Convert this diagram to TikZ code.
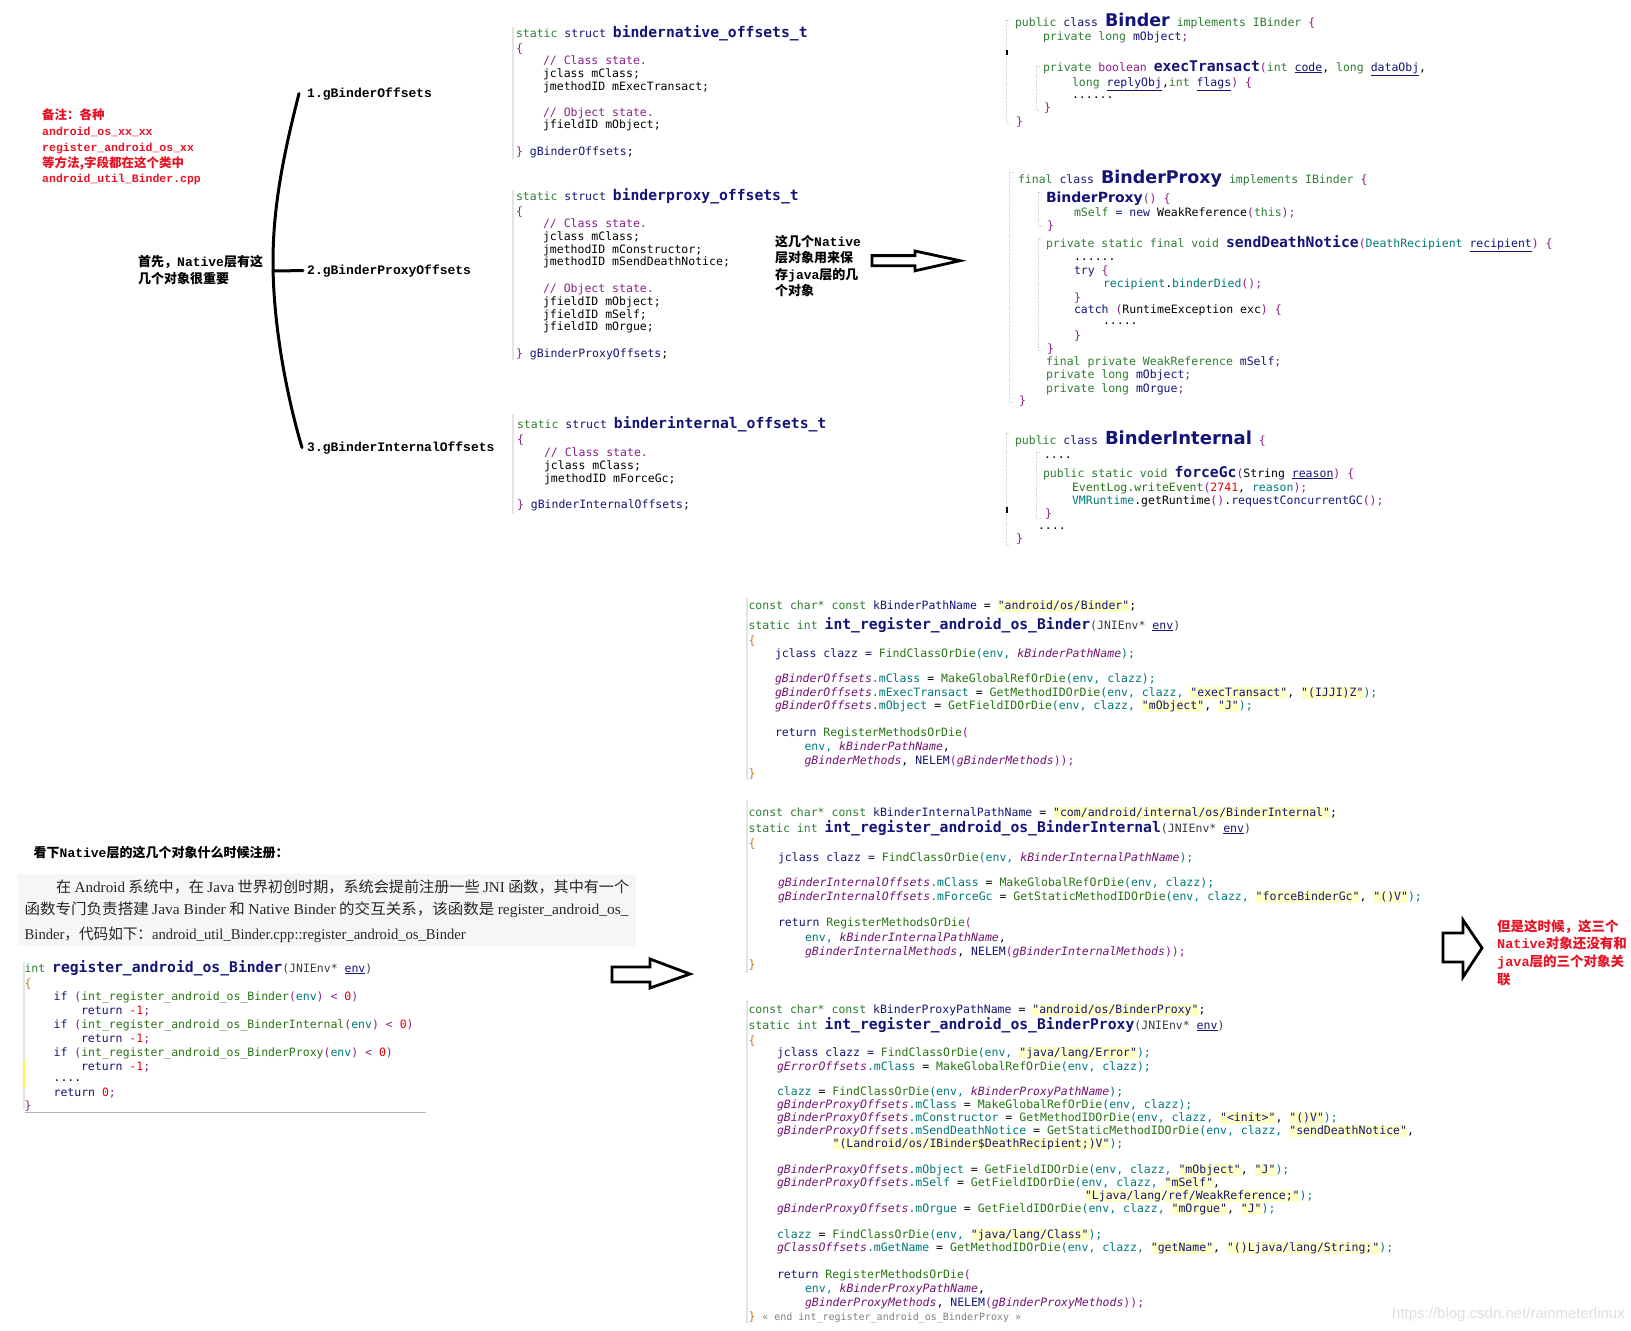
\documentclass[tikz,border=0pt]{standalone}
\usepackage{fontspec}
\usepackage{graphicx}
\newfontfamily\cf{DejaVu Sans Mono}
\newfontfamily\jf{DejaVu Sans}
\newfontfamily\lmo{Liberation Mono}
\newfontfamily\cjk{Noto Sans CJK SC}
\newfontfamily\lser{Liberation Serif}
\newfontfamily\lsans{Liberation Sans}
\definecolor{kw}{RGB}{46,125,50}
\definecolor{nv}{RGB}{20,20,120}
\definecolor{pu}{RGB}{140,30,140}
\definecolor{tl}{RGB}{0,120,120}
\definecolor{fg}{RGB}{40,115,20}
\definecolor{ci}{RGB}{115,20,115}
\definecolor{rn}{RGB}{230,0,0}
\definecolor{hl}{RGB}{255,255,200}
\definecolor{redT}{RGB}{232,18,36}
\definecolor{dk}{RGB}{60,60,60}
\definecolor{orng}{RGB}{200,120,20}
\newcommand\co[2]{\textcolor{#1}{#2}}
\newcommand\bt[1]{{\bfseries\fontsize{14.7}{15}\selectfont #1}}
\newcommand\jt[2]{{\jf\bfseries\fontsize{#1}{#1}\selectfont #2}}
\newcommand\und[1]{\underline{#1}}
\newcommand\hlb[1]{{\setlength{\fboxsep}{0pt}\colorbox{hl}{\rule[-3pt]{0pt}{12pt}\co{nv}{#1}}}}
\newcommand\ital[1]{\co{ci}{\itshape #1}}
\newcommand\zh[1]{{\cjk\bfseries #1}}
\newcounter{nn}
\newcommand\Ln[4][code]{\stepcounter{nn}\node[#1] (n\thenn) at (#2,#3) {#4};}
\tikzset{
  code/.style={anchor=base west, inner sep=0pt, outer sep=0pt, font=\cf\fontsize{11.5}{13}\selectfont},
  lab/.style={anchor=base west, inner sep=0pt, font=\lmo\bfseries\fontsize{13}{15}\selectfont},
  redlab/.style={lab, text=redT, font=\lmo\bfseries\fontsize{12.5}{15}\selectfont},
  redsm/.style={lab, text=redT, font=\lmo\bfseries\fontsize{11.5}{14}\selectfont},
  redbig/.style={lab, text=redT, font=\lmo\bfseries\fontsize{13.5}{15}\selectfont},
  scan/.style={anchor=base west, inner sep=0pt, font=\cjk\fontsize{15}{17}\selectfont, text=black!85},
  wm/.style={anchor=base east, inner sep=0pt, font=\lsans\fontsize{15}{15}\selectfont, text=gray!25},
  bar/.style={draw=gray!22, line width=1.5pt},
  jbar/.style={draw=gray!35, line width=0.8pt, densely dotted},
  hollow/.style={draw=black, line width=2.8pt, fill=white, line join=miter},
  brk/.style={draw=black, line width=3pt, line cap=round},
}
\begin{document}
\begin{tikzpicture}[x=1pt,y=-1pt]
\fill[white] (0,0) rectangle (1631,1331);
\useasboundingbox (0,0) rectangle (1631,1331);

% ---------- left labels and bracket ----------
\Ln[redlab]{42}{119}{\zh{备注：各种}}
\Ln[redsm]{42}{135}{android\_os\_xx\_xx}
\Ln[redsm]{42}{151}{register\_android\_os\_xx}
\Ln[redlab]{42}{167}{\zh{等方法,字段都在这个类中}}
\Ln[redsm]{42}{182}{android\_util\_Binder.cpp}
\node[lab] (g1) at (307,97) {1.gBinderOffsets};
\node[lab] (g2) at (307,274) {2.gBinderProxyOffsets};
\node[lab] (g3) at (307,451) {3.gBinderInternalOffsets};
\Ln[lab]{138}{266}{\zh{首先，}Native\zh{层有这}}
\Ln[lab]{138}{283}{\zh{几个对象很重要}}
\coordinate (bm) at (273,271);
\draw[brk] ([xshift=-8pt]g1.west) .. controls (282,160) and (273,210) .. (273,262) .. controls (273,320) and (285,390) .. ([xshift=-5pt]g3.west);
\draw[brk] (bm) -- ([xshift=-4pt]g2.west);

% ---------- struct blocks ----------
\draw[bar] (513,27.4) -- (513,159);
\draw[bar] (513,189.7) -- (513,360);
\draw[bar] (513,414) -- (513,514);
\Ln{516}{37}{\co{kw}{static} \co{nv}{struct} \bt{\co{nv}{bindernative\_offsets\_t}}}
\Ln{516}{52}{\co{pu}{\{}}
\Ln{543}{64}{\co{pu}{// Class state.}}
\Ln{543}{77}{jclass mClass;}
\Ln{543}{90}{jmethodID mExecTransact;}
\Ln{543}{116.6}{\co{pu}{// Object state.}}
\Ln{543}{128.7}{jfieldID mObject;}
\Ln{516}{155}{\co{pu}{\}} \co{nv}{gBinderOffsets};}

\Ln{516}{200}{\co{kw}{static} \co{nv}{struct} \bt{\co{nv}{binderproxy\_offsets\_t}}}
\Ln{516}{215}{\co{pu}{\{}}
\Ln{543}{227}{\co{pu}{// Class state.}}
\Ln{543}{240.3}{jclass mClass;}
\Ln{543}{253.5}{jmethodID mConstructor;}
\Ln{543}{265.7}{jmethodID mSendDeathNotice;}
\Ln{543}{292}{\co{pu}{// Object state.}}
\Ln{543}{305.2}{jfieldID mObject;}
\Ln{543}{318.4}{jfieldID mSelf;}
\Ln{543}{330.6}{jfieldID mOrgue;}
\Ln{516}{357}{\co{pu}{\}} \co{nv}{gBinderProxyOffsets};}

\Ln{517}{428}{\co{kw}{static} \co{nv}{struct} \bt{\co{nv}{binderinternal\_offsets\_t}}}
\Ln{517}{443}{\co{pu}{\{}}
\Ln{544}{456.3}{\co{pu}{// Class state.}}
\Ln{544}{469.5}{jclass mClass;}
\Ln{544}{482.7}{jmethodID mForceGc;}
\Ln{517}{508}{\co{pu}{\}} \co{nv}{gBinderInternalOffsets};}

% middle label and arrow
\Ln[lab]{775}{246}{\zh{这几个}Native}
\Ln[lab]{775}{262}{\zh{层对象用来保}}
\Ln[lab]{775}{279}{\zh{存}java\zh{层的几}}
\Ln[lab]{775}{295}{\zh{个对象}}
\draw[hollow] (872,255.6) -- (915,255.6) -- (915,251) -- (960,260.7) -- (915,270.8) -- (915,265.7) -- (872,265.7) -- cycle;

% ---------- Java: Binder ----------
\draw[jbar] (1010,20) -- (1006,20) -- (1006,123) -- (1010,123);
\draw[jbar] (1040,66) -- (1036,66) -- (1036,110) -- (1040,110);
\fill (1006,50) rectangle (1007.5,55);
\Ln{1015}{26}{\co{kw}{public} \co{nv}{class} \jt{17.5}{\co{nv}{Binder}} \co{kw}{implements IBinder} \co{pu}{\{}}
\Ln{1043}{40}{\co{kw}{private long} \co{nv}{mObject}\co{pu}{;}}
\Ln{1043}{71}{\co{kw}{private} \co{pu}{boolean} \bt{\co{nv}{execTransact}}\co{pu}{(}\co{kw}{int} \co{nv}{\und{code}}, \co{kw}{long} \co{nv}{\und{dataObj}},}
\Ln{1072}{86}{\co{kw}{long} \co{nv}{\und{replyObj}},\co{kw}{int} \co{nv}{\und{flags}}\co{pu}{) \{}}
\Ln{1072}{98}{......}
\Ln{1044}{111}{\co{pu}{\}}}
\Ln{1016}{125}{\co{pu}{\}}}

% ---------- Java: BinderProxy ----------
\draw[jbar] (1013,172) -- (1009,172) -- (1009,402) -- (1013,402);
\draw[jbar] (1042,192) -- (1038,192) -- (1038,226) -- (1042,226);
\draw[jbar] (1042,238) -- (1038,238) -- (1038,350) -- (1042,350);
\Ln{1018}{183}{\co{kw}{final} \co{nv}{class} \jt{17.5}{\co{nv}{BinderProxy}} \co{kw}{implements IBinder} \co{pu}{\{}}
\Ln{1046}{202}{\jt{14}{\co{nv}{BinderProxy}}\co{pu}{() \{}}
\Ln{1074}{216}{\co{kw}{mSelf} \co{nv}{= new} WeakReference\co{pu}{(}\co{kw}{this}\co{pu}{);}}
\Ln{1047}{229}{\co{pu}{\}}}
\Ln{1046}{247}{\co{kw}{private static final void} \bt{\co{nv}{sendDeathNotice}}\co{pu}{(}\co{tl}{DeathRecipient} \co{nv}{\und{recipient}}\co{pu}{) \{}}
\Ln{1074}{260}{......}
\Ln{1074}{274}{\co{nv}{try} \co{pu}{\{}}
\Ln{1103}{287}{\co{tl}{recipient}.\co{tl}{binderDied}\co{pu}{();}}
\Ln{1074}{301}{\co{pu}{\}}}
\Ln{1074}{313}{\co{nv}{catch} \co{pu}{(}RuntimeException exc\co{pu}{) \{}}
\Ln{1103}{324}{.....}
\Ln{1074}{339}{\co{pu}{\}}}
\Ln{1047}{352}{\co{pu}{\}}}
\Ln{1046}{365}{\co{kw}{final private WeakReference} \co{nv}{mSelf}\co{pu}{;}}
\Ln{1046}{378}{\co{kw}{private long} \co{nv}{mObject}\co{pu}{;}}
\Ln{1046}{392}{\co{kw}{private long} \co{nv}{mOrgue}\co{pu}{;}}
\Ln{1019}{404}{\co{pu}{\}}}

% ---------- Java: BinderInternal ----------
\draw[jbar] (1010,433) -- (1006,433) -- (1006,545) -- (1010,545);
\draw[jbar] (1040,452) -- (1036,452) -- (1036,518) -- (1040,518);
\fill (1006,507) rectangle (1007.5,513);
\Ln{1015}{444}{\co{kw}{public} \co{nv}{class} \jt{18}{\co{nv}{BinderInternal}} \co{pu}{\{}}
\Ln{1044}{458}{....}
\Ln{1043}{477}{\co{kw}{public static void} \bt{\co{nv}{forceGc}}\co{pu}{(}String \co{nv}{\und{reason}}\co{pu}{) \{}}
\Ln{1072}{491}{\co{fg}{EventLog.writeEvent}\co{pu}{(}\co{rn}{2741}, \co{tl}{reason}\co{pu}{);}}
\Ln{1072}{504}{\co{tl}{VMRuntime}.getRuntime\co{pu}{()}.\co{nv}{requestConcurrentGC}\co{pu}{();}}
\Ln{1045}{517}{\co{pu}{\}}}
\Ln{1038}{529}{....}
\Ln{1016}{542}{\co{pu}{\}}}

% ---------- C: int_register_android_os_Binder ----------
\draw[bar] (747,598) -- (747,780);
\Ln{748.5}{609}{\co{kw}{const char* const} \co{nv}{kBinderPathName} = \hlb{"android/os/Binder"};}
\Ln{748.5}{629}{\co{kw}{static int} \bt{\co{nv}{int\_register\_android\_os\_Binder}}\co{dk}{(JNIEnv*} \co{nv}{\und{env}}\co{dk}{)}}
\Ln{748.5}{644}{\co{orng}{\{}}
\Ln{775}{657}{\co{nv}{jclass clazz =} \co{fg}{FindClassOrDie}\co{tl}{(env,} \ital{kBinderPathName}\co{tl}{);}}
\Ln{775}{682}{\ital{gBinderOffsets}\co{tl}{.mClass} = \co{fg}{MakeGlobalRefOrDie}\co{tl}{(env, clazz);}}
\Ln{775}{696}{\ital{gBinderOffsets}\co{tl}{.mExecTransact} = \co{fg}{GetMethodIDOrDie}\co{tl}{(env, clazz,} \hlb{"execTransact"}, \hlb{"(IJJI)Z"}\co{tl}{);}}
\Ln{775}{709}{\ital{gBinderOffsets}\co{tl}{.mObject} = \co{fg}{GetFieldIDOrDie}\co{tl}{(env, clazz,} \hlb{"mObject"}, \hlb{"J"}\co{tl}{);}}
\Ln{775}{736}{\co{nv}{return} \co{fg}{RegisterMethodsOrDie}\co{pu}{(}}
\Ln{804.5}{750}{\co{tl}{env,} \ital{kBinderPathName},}
\Ln{804.5}{764}{\ital{gBinderMethods}, \co{nv}{NELEM}\co{pu}{(}\ital{gBinderMethods}\co{pu}{));}}
\Ln{748.5}{777}{\co{orng}{\}}}

% ---------- C: int_register_android_os_BinderInternal ----------
\draw[bar] (747,800) -- (747,973);
\Ln{748.5}{816}{\co{kw}{const char* const} \co{nv}{kBinderInternalPathName} = \hlb{"com/android/internal/os/BinderInternal"};}
\Ln{748.5}{832}{\co{kw}{static int} \bt{\co{nv}{int\_register\_android\_os\_BinderInternal}}\co{dk}{(JNIEnv*} \co{nv}{\und{env}}\co{dk}{)}}
\Ln{748.5}{847}{\co{orng}{\{}}
\Ln{778}{861}{\co{nv}{jclass clazz =} \co{fg}{FindClassOrDie}\co{tl}{(env,} \ital{kBinderInternalPathName}\co{tl}{);}}
\Ln{778}{886}{\ital{gBinderInternalOffsets}\co{tl}{.mClass} = \co{fg}{MakeGlobalRefOrDie}\co{tl}{(env, clazz);}}
\Ln{778}{900}{\ital{gBinderInternalOffsets}\co{tl}{.mForceGc} = \co{fg}{GetStaticMethodIDOrDie}\co{tl}{(env, clazz,} \hlb{"forceBinderGc"}, \hlb{"()V"}\co{tl}{);}}
\Ln{778}{926}{\co{nv}{return} \co{fg}{RegisterMethodsOrDie}\co{pu}{(}}
\Ln{805}{941}{\co{tl}{env,} \ital{kBinderInternalPathName},}
\Ln{805}{955}{\ital{gBinderInternalMethods}, \co{nv}{NELEM}\co{pu}{(}\ital{gBinderInternalMethods}\co{pu}{));}}
\Ln{748.5}{968}{\co{orng}{\}}}

% right arrow and red note
\draw[hollow] (1443,933) -- (1463,933) -- (1463,920) -- (1482,948) -- (1463,977) -- (1463,962) -- (1443,962) -- cycle;
\Ln[redbig]{1497}{931}{\zh{但是这时候，这三个}}
\Ln[redbig]{1497}{948}{Native\zh{对象还没有和}}
\Ln[redbig]{1497}{966}{java\zh{层的三个对象关}}
\Ln[redbig]{1497}{984}{\zh{联}}

% ---------- C: int_register_android_os_BinderProxy ----------
\draw[bar] (747,1000) -- (747,1323);
\Ln{748.5}{1013}{\co{kw}{const char* const} \co{nv}{kBinderProxyPathName} = \hlb{"android/os/BinderProxy"};}
\Ln{748.5}{1029}{\co{kw}{static int} \bt{\co{nv}{int\_register\_android\_os\_BinderProxy}}\co{dk}{(JNIEnv*} \co{nv}{\und{env}}\co{dk}{)}}
\Ln{748.5}{1044}{\co{orng}{\{}}
\Ln{777}{1056}{\co{nv}{jclass clazz =} \co{fg}{FindClassOrDie}\co{tl}{(env,} \hlb{"java/lang/Error"}\co{tl}{);}}
\Ln{777}{1070}{\ital{gErrorOffsets}\co{tl}{.mClass} = \co{fg}{MakeGlobalRefOrDie}\co{tl}{(env, clazz);}}
\Ln{777}{1095}{\co{tl}{clazz} = \co{fg}{FindClassOrDie}\co{tl}{(env,} \ital{kBinderProxyPathName}\co{tl}{);}}
\Ln{777}{1108}{\ital{gBinderProxyOffsets}\co{tl}{.mClass} = \co{fg}{MakeGlobalRefOrDie}\co{tl}{(env, clazz);}}
\Ln{777}{1121}{\ital{gBinderProxyOffsets}\co{tl}{.mConstructor} = \co{fg}{GetMethodIDOrDie}\co{tl}{(env, clazz,} \hlb{"<init>"}, \hlb{"()V"}\co{tl}{);}}
\Ln{777}{1134}{\ital{gBinderProxyOffsets}\co{tl}{.mSendDeathNotice} = \co{fg}{GetStaticMethodIDOrDie}\co{tl}{(env, clazz,} \hlb{"sendDeathNotice"},}
\Ln{832.6}{1147}{\hlb{"(Landroid/os/IBinder\$DeathRecipient;)V"}\co{tl}{);}}
\Ln{777}{1173}{\ital{gBinderProxyOffsets}\co{tl}{.mObject} = \co{fg}{GetFieldIDOrDie}\co{tl}{(env, clazz,} \hlb{"mObject"}, \hlb{"J"}\co{tl}{);}}
\Ln{777}{1186}{\ital{gBinderProxyOffsets}\co{tl}{.mSelf} = \co{fg}{GetFieldIDOrDie}\co{tl}{(env, clazz,} \hlb{"mSelf"},}
\Ln{1085}{1199}{\hlb{"Ljava/lang/ref/WeakReference;"}\co{tl}{);}}
\Ln{777}{1212}{\ital{gBinderProxyOffsets}\co{tl}{.mOrgue} = \co{fg}{GetFieldIDOrDie}\co{tl}{(env, clazz,} \hlb{"mOrgue"}, \hlb{"J"}\co{tl}{);}}
\Ln{777}{1238}{\co{tl}{clazz} = \co{fg}{FindClassOrDie}\co{tl}{(env,} \hlb{"java/lang/Class"}\co{tl}{);}}
\Ln{777}{1251}{\ital{gClassOffsets}\co{tl}{.mGetName} = \co{fg}{GetMethodIDOrDie}\co{tl}{(env, clazz,} \hlb{"getName"}, \hlb{"()Ljava/lang/String;"}\co{tl}{);}}
\Ln{777}{1278}{\co{nv}{return} \co{fg}{RegisterMethodsOrDie}\co{pu}{(}}
\Ln{805}{1292}{\co{tl}{env,} \ital{kBinderProxyPathName},}
\Ln{805}{1306}{\ital{gBinderProxyMethods}, \co{nv}{NELEM}\co{pu}{(}\ital{gBinderProxyMethods}\co{pu}{));}}
\Ln{748.5}{1320}{\co{orng}{\}} \co{gray}{\fontsize{10}{12}\selectfont « end int\_register\_android\_os\_BinderProxy »}}
\Ln[wm]{1625}{1318}{https://blog.csdn.net/rainmeterlinux}

% ---------- bottom-left ----------
\Ln[lab]{33.5}{857}{\zh{看下}Native\zh{层的这几个对象什么时候注册：}}
\fill[gray!7] (18,874) rectangle (636,946);
\Ln[scan]{56}{892}{\resizebox{573pt}{\height}{在 {\lser Android} 系统中，在 {\lser Java} 世界初创时期，系统会提前注册一些 {\lser JNI} 函数，其中有一个}}
\Ln[scan]{24.5}{914}{\resizebox{604pt}{\height}{函数专门负责搭建 {\lser Java Binder} 和 {\lser Native Binder} 的交互关系，该函数是 {\lser register\_android\_os\_}}}
\Ln[scan]{24.5}{939}{\resizebox{441pt}{\height}{{\lser Binder}，代码如下：{\lser android\_util\_Binder.cpp::register\_android\_os\_Binder}}}

\draw[bar] (24,962) -- (24,1110);
\draw[draw=yellow!70, line width=1.5pt] (24,1060) -- (24,1088);
\Ln{24.5}{972}{\co{kw}{int} \bt{\co{nv}{register\_android\_os\_Binder}}\co{dk}{(JNIEnv*} \co{nv}{\und{env}}\co{dk}{)}}
\Ln{24.5}{987}{\co{orng}{\{}}
\Ln{53.6}{1000}{\co{nv}{if} \co{pu}{(}\co{fg}{int\_register\_android\_os\_Binder}\co{pu}{(}\co{tl}{env}\co{pu}{)} \co{pu}{<} \co{rn}{0}\co{pu}{)}}
\Ln{81}{1014}{\co{nv}{return} \co{rn}{-1}\co{pu}{;}}
\Ln{53.6}{1028}{\co{nv}{if} \co{pu}{(}\co{fg}{int\_register\_android\_os\_BinderInternal}\co{pu}{(}\co{tl}{env}\co{pu}{)} \co{pu}{<} \co{rn}{0}\co{pu}{)}}
\Ln{81}{1042}{\co{nv}{return} \co{rn}{-1}\co{pu}{;}}
\Ln{53.6}{1056}{\co{nv}{if} \co{pu}{(}\co{fg}{int\_register\_android\_os\_BinderProxy}\co{pu}{(}\co{tl}{env}\co{pu}{)} \co{pu}{<} \co{rn}{0}\co{pu}{)}}
\Ln{81}{1070}{\co{nv}{return} \co{rn}{-1}\co{pu}{;}}
\Ln{53.6}{1081}{....}
\Ln{53.6}{1096}{\co{nv}{return} \co{rn}{0}\co{pu}{;}}
\Ln{24.5}{1109}{\co{pu}{\}}}
\draw[gray!60, line width=1pt] (24.5,1112) -- (426,1112);
\draw[hollow] (612,967) -- (650,967) -- (650,959) -- (690,974) -- (650,988) -- (650,982) -- (612,982) -- cycle;
\end{tikzpicture}
\end{document}
